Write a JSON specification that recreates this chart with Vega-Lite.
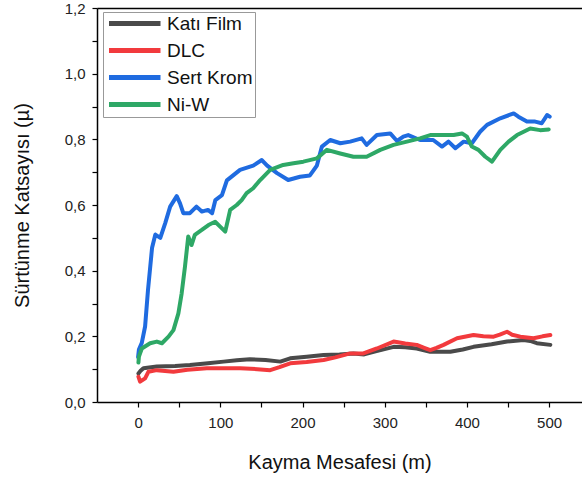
{
  "$schema": "https://vega.github.io/schema/vega-lite/v6.json",
  "width": 485,
  "height": 394,
  "autosize": "none",
  "padding": {"left": 97, "top": 8, "right": 0, "bottom": 81},
  "background": "white",
  "config": {
    "view": {"stroke": null},
    "font": "Liberation Sans",
    "axis": {"domainColor": "black", "domainWidth": 1.5, "tickColor": "black", "tickWidth": 1.2, "grid": false, "labelFont": "Liberation Sans", "titleFont": "Liberation Sans", "labelColor": "#222", "titleColor": "#111", "titleFontWeight": "normal"}
  },
  "data": {"values": [
    {"s":"Katı Film","x":0.4,"y":0.087},{"s":"Katı Film","x":3,"y":0.095},{"s":"Katı Film","x":6.5,"y":0.103},{"s":"Katı Film","x":22.8,"y":0.108},{"s":"Katı Film","x":45,"y":0.110},{"s":"Katı Film","x":63,"y":0.113},{"s":"Katı Film","x":85,"y":0.118},{"s":"Katı Film","x":104,"y":0.123},{"s":"Katı Film","x":120,"y":0.127},{"s":"Katı Film","x":136,"y":0.13},{"s":"Katı Film","x":155,"y":0.128},{"s":"Katı Film","x":173,"y":0.123},{"s":"Katı Film","x":185,"y":0.133},{"s":"Katı Film","x":205,"y":0.138},{"s":"Katı Film","x":225.6,"y":0.143},{"s":"Katı Film","x":245,"y":0.145},{"s":"Katı Film","x":262,"y":0.148},{"s":"Katı Film","x":275,"y":0.145},{"s":"Katı Film","x":290,"y":0.155},{"s":"Katı Film","x":310.8,"y":0.168},{"s":"Katı Film","x":325,"y":0.167},{"s":"Katı Film","x":339,"y":0.163},{"s":"Katı Film","x":355.4,"y":0.153},{"s":"Katı Film","x":379.8,"y":0.153},{"s":"Katı Film","x":395,"y":0.160},{"s":"Katı Film","x":408,"y":0.168},{"s":"Katı Film","x":430,"y":0.176},{"s":"Katı Film","x":448.8,"y":0.184},{"s":"Katı Film","x":469,"y":0.189},{"s":"Katı Film","x":477,"y":0.186},{"s":"Katı Film","x":485,"y":0.179},{"s":"Katı Film","x":501.5,"y":0.174},
    {"s":"DLC","x":0.4,"y":0.077},{"s":"DLC","x":2.4,"y":0.062},{"s":"DLC","x":8.5,"y":0.072},{"s":"DLC","x":12.5,"y":0.092},{"s":"DLC","x":22.8,"y":0.097},{"s":"DLC","x":43,"y":0.092},{"s":"DLC","x":60,"y":0.098},{"s":"DLC","x":83.6,"y":0.103},{"s":"DLC","x":105,"y":0.103},{"s":"DLC","x":124,"y":0.103},{"s":"DLC","x":145,"y":0.100},{"s":"DLC","x":160.7,"y":0.097},{"s":"DLC","x":172,"y":0.106},{"s":"DLC","x":185,"y":0.118},{"s":"DLC","x":205,"y":0.122},{"s":"DLC","x":225.6,"y":0.128},{"s":"DLC","x":240,"y":0.136},{"s":"DLC","x":258,"y":0.148},{"s":"DLC","x":274,"y":0.148},{"s":"DLC","x":290.5,"y":0.163},{"s":"DLC","x":310.8,"y":0.184},{"s":"DLC","x":325,"y":0.178},{"s":"DLC","x":339,"y":0.174},{"s":"DLC","x":348,"y":0.165},{"s":"DLC","x":355.4,"y":0.158},{"s":"DLC","x":363,"y":0.165},{"s":"DLC","x":371.6,"y":0.174},{"s":"DLC","x":388,"y":0.194},{"s":"DLC","x":408,"y":0.204},{"s":"DLC","x":420,"y":0.200},{"s":"DLC","x":432.5,"y":0.199},{"s":"DLC","x":440,"y":0.205},{"s":"DLC","x":448.8,"y":0.214},{"s":"DLC","x":455,"y":0.205},{"s":"DLC","x":465,"y":0.199},{"s":"DLC","x":481,"y":0.194},{"s":"DLC","x":492,"y":0.200},{"s":"DLC","x":501.5,"y":0.204},
    {"s":"Sert Krom","x":0,"y":0.137},{"s":"Sert Krom","x":1,"y":0.16},{"s":"Sert Krom","x":4.5,"y":0.18},{"s":"Sert Krom","x":8.5,"y":0.23},{"s":"Sert Krom","x":12,"y":0.34},{"s":"Sert Krom","x":17,"y":0.47},{"s":"Sert Krom","x":21,"y":0.51},{"s":"Sert Krom","x":27,"y":0.50},{"s":"Sert Krom","x":33,"y":0.545},{"s":"Sert Krom","x":39,"y":0.595},{"s":"Sert Krom","x":47,"y":0.627},{"s":"Sert Krom","x":51,"y":0.605},{"s":"Sert Krom","x":55,"y":0.575},{"s":"Sert Krom","x":63,"y":0.575},{"s":"Sert Krom","x":71,"y":0.595},{"s":"Sert Krom","x":77.5,"y":0.58},{"s":"Sert Krom","x":85,"y":0.585},{"s":"Sert Krom","x":90,"y":0.575},{"s":"Sert Krom","x":94,"y":0.615},{"s":"Sert Krom","x":102,"y":0.63},{"s":"Sert Krom","x":108,"y":0.675},{"s":"Sert Krom","x":124,"y":0.707},{"s":"Sert Krom","x":140,"y":0.72},{"s":"Sert Krom","x":150.5,"y":0.737},{"s":"Sert Krom","x":157,"y":0.72},{"s":"Sert Krom","x":169,"y":0.697},{"s":"Sert Krom","x":182.6,"y":0.676},{"s":"Sert Krom","x":197,"y":0.686},{"s":"Sert Krom","x":209,"y":0.69},{"s":"Sert Krom","x":217.5,"y":0.72},{"s":"Sert Krom","x":223.6,"y":0.778},{"s":"Sert Krom","x":233.7,"y":0.798},{"s":"Sert Krom","x":246,"y":0.788},{"s":"Sert Krom","x":258,"y":0.793},{"s":"Sert Krom","x":272,"y":0.803},{"s":"Sert Krom","x":278,"y":0.783},{"s":"Sert Krom","x":290.5,"y":0.813},{"s":"Sert Krom","x":306.7,"y":0.818},{"s":"Sert Krom","x":315,"y":0.795},{"s":"Sert Krom","x":322.6,"y":0.808},{"s":"Sert Krom","x":328.6,"y":0.813},{"s":"Sert Krom","x":343,"y":0.798},{"s":"Sert Krom","x":359,"y":0.798},{"s":"Sert Krom","x":369.7,"y":0.778},{"s":"Sert Krom","x":377.6,"y":0.793},{"s":"Sert Krom","x":386,"y":0.773},{"s":"Sert Krom","x":396,"y":0.793},{"s":"Sert Krom","x":406,"y":0.788},{"s":"Sert Krom","x":416,"y":0.823},{"s":"Sert Krom","x":424.5,"y":0.844},{"s":"Sert Krom","x":440.6,"y":0.864},{"s":"Sert Krom","x":456.9,"y":0.879},{"s":"Sert Krom","x":462.6,"y":0.869},{"s":"Sert Krom","x":473,"y":0.854},{"s":"Sert Krom","x":483,"y":0.854},{"s":"Sert Krom","x":491,"y":0.849},{"s":"Sert Krom","x":497.5,"y":0.874},{"s":"Sert Krom","x":500.7,"y":0.869},
    {"s":"Ni-W","x":0.4,"y":0.12},{"s":"Ni-W","x":1,"y":0.138},{"s":"Ni-W","x":4.5,"y":0.163},{"s":"Ni-W","x":14.6,"y":0.179},{"s":"Ni-W","x":22.8,"y":0.184},{"s":"Ni-W","x":29,"y":0.179},{"s":"Ni-W","x":37,"y":0.199},{"s":"Ni-W","x":43,"y":0.219},{"s":"Ni-W","x":49,"y":0.27},{"s":"Ni-W","x":53,"y":0.331},{"s":"Ni-W","x":57,"y":0.412},{"s":"Ni-W","x":61,"y":0.504},{"s":"Ni-W","x":65,"y":0.478},{"s":"Ni-W","x":69,"y":0.509},{"s":"Ni-W","x":77.5,"y":0.524},{"s":"Ni-W","x":85.6,"y":0.539},{"s":"Ni-W","x":93.7,"y":0.549},{"s":"Ni-W","x":99.8,"y":0.534},{"s":"Ni-W","x":106,"y":0.519},{"s":"Ni-W","x":112,"y":0.585},{"s":"Ni-W","x":120,"y":0.60},{"s":"Ni-W","x":126,"y":0.615},{"s":"Ni-W","x":132,"y":0.636},{"s":"Ni-W","x":140,"y":0.651},{"s":"Ni-W","x":148.5,"y":0.676},{"s":"Ni-W","x":160.7,"y":0.707},{"s":"Ni-W","x":176.5,"y":0.722},{"s":"Ni-W","x":189,"y":0.727},{"s":"Ni-W","x":201,"y":0.732},{"s":"Ni-W","x":217.5,"y":0.742},{"s":"Ni-W","x":229.7,"y":0.768},{"s":"Ni-W","x":245.9,"y":0.757},{"s":"Ni-W","x":262,"y":0.747},{"s":"Ni-W","x":278,"y":0.747},{"s":"Ni-W","x":294.6,"y":0.768},{"s":"Ni-W","x":310.7,"y":0.783},{"s":"Ni-W","x":327,"y":0.793},{"s":"Ni-W","x":343,"y":0.803},{"s":"Ni-W","x":355.4,"y":0.813},{"s":"Ni-W","x":371.6,"y":0.813},{"s":"Ni-W","x":383.8,"y":0.813},{"s":"Ni-W","x":394,"y":0.818},{"s":"Ni-W","x":400,"y":0.808},{"s":"Ni-W","x":406,"y":0.778},{"s":"Ni-W","x":414,"y":0.768},{"s":"Ni-W","x":422.4,"y":0.747},{"s":"Ni-W","x":430.5,"y":0.732},{"s":"Ni-W","x":440.6,"y":0.768},{"s":"Ni-W","x":450.7,"y":0.793},{"s":"Ni-W","x":461,"y":0.813},{"s":"Ni-W","x":477,"y":0.833},{"s":"Ni-W","x":489,"y":0.828},{"s":"Ni-W","x":499.5,"y":0.83}
  ]},
  "layer": [
    {
      "mark": {"type": "line", "strokeWidth": 4, "strokeJoin": "round", "strokeCap": "round"},
      "encoding": {
        "x": {"field": "x", "type": "quantitative", "scale": {"domain": [-50, 540], "nice": false, "zero": false},
          "axis": {"values": [0,50,100,150,200,250,300,350,400,450,500], "labelExpr": "datum.value % 100 == 0 ? datum.label : ''", "tickSize": 5, "labelPadding": 8, "labelFontSize": 15, "title": "Kayma Mesafesi (m)", "titleFontSize": 20, "titlePadding": 22}},
        "y": {"field": "y", "type": "quantitative", "scale": {"domain": [0, 1.2], "nice": false},
          "axis": {"values": [0,0.1,0.2,0.3,0.4,0.5,0.6,0.7,0.8,0.9,1.0,1.1,1.2], "labelExpr": "(round(datum.value*10) % 2 == 0) ? replace(format(datum.value, '.1f'), '.', ',') : ''", "tickSize": 5, "labelPadding": 7, "labelFontSize": 15, "title": "Sürtünme Katsayısı (µ)", "titleFontSize": 20, "titlePadding": 32}},
        "color": {"field": "s", "type": "nominal", "sort": ["Katı Film", "DLC", "Sert Krom", "Ni-W"],
          "scale": {"domain": ["Katı Film", "DLC", "Sert Krom", "Ni-W"], "range": ["#4a4a4a", "#f23a3d", "#1f6be0", "#2ea866"]},
          "legend": {"title": null, "orient": "none", "legendX": 6, "legendY": 4, "padding": 2, "strokeColor": "#999", "fillColor": "white",
            "symbolType": "M-1.1,0H9.2", "symbolSize": 100, "symbolStrokeWidth": 5, "labelFontSize": 19, "labelColor": "#111", "labelOffset": 43, "rowPadding": 6, "symbolFillColor": "transparent"}},
        "order": {"field": "x", "type": "quantitative"}
      }
    },
    {
      "mark": {"type": "rule", "opacity": 0},
      "encoding": {
        "x": {"field": "x", "type": "quantitative", "aggregate": "min",
          "axis": {"orient": "top", "labels": false, "ticks": false, "title": null, "domainWidth": 1.5}}
      }
    }
  ],
  "resolve": {"axis": {"x": "independent"}}
}
